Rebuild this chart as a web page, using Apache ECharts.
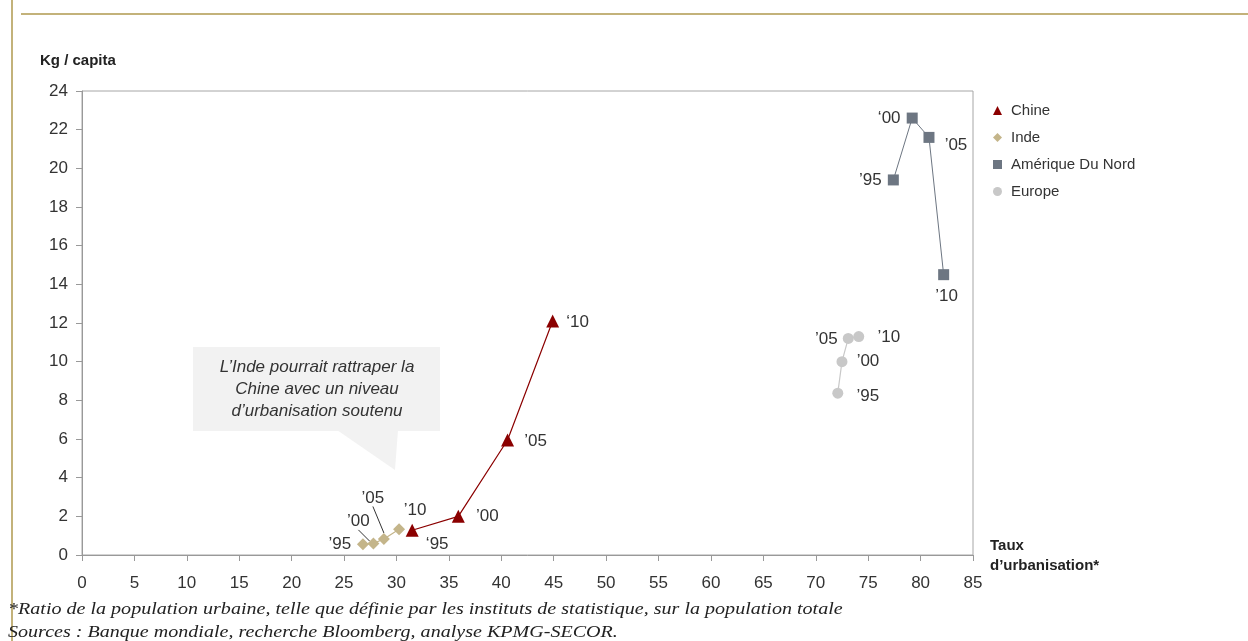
<!DOCTYPE html>
<html><head><meta charset="utf-8">
<script src="https://cdn.jsdelivr.net/npm/echarts@6/dist/echarts.min.js"></script>
<style>html,body{margin:0;padding:0;background:#fff;}#c{width:1248px;height:641px;}</style>
</head><body><div id="c"></div>
<script>
const seriesNames = ['Chine', 'Inde', 'Amérique Du Nord', 'Europe'];
const chineX = [31.5, 35.9, 40.6, 44.9];
const chineY = [1.28, 2.0, 5.95, 12.1];
const chineLabels = ['‘95', '’00', '’05', '‘10'];
const indeX = [26.8, 27.8, 28.8, 30.25];
const indeY = [0.55, 0.6, 0.83, 1.33];
const indeLabels = ['’95', '’00', '’05', '’10'];
const naX = [77.4, 79.2, 80.8, 82.2];
const naY = [19.4, 22.6, 21.6, 14.5];
const naLabels = ['’95', '‘00', '’05', '’10'];
const euX = [72.1, 72.5, 73.1, 74.1];
const euY = [8.37, 10.0, 11.2, 11.3];
const euLabels = ['’95', '’00', '’05', '’10'];
const xTicks = [0,5,10,15,20,25,30,35,40,45,50,55,60,65,70,75,80,85];
const yTicks = [0,2,4,6,8,10,12,14,16,18,20,22,24];
const yAxisTitle = 'Kg / capita';
const xAxisTitle = 'Taux\nd’urbanisation*';
const calloutText = 'L’Inde pourrait rattraper la\nChine avec un niveau\nd’urbanisation soutenu';
const footnote1 = '*Ratio de la population urbaine, telle que définie par les instituts de statistique, sur la population totale';
const footnote2 = 'Sources : Banque mondiale, recherche Bloomberg, analyse KPMG-SECOR.';

const FONT = '"Liberation Sans", Arial, sans-serif';
const lblBase = {show: true, position: 'inside', fontSize: 17, color: '#333', fontFamily: FONT};

function build(xs, ys, labels, offsets) {
  return xs.map((x, i) => ({value: [x, ys[i]], label: Object.assign({}, lblBase, {formatter: labels[i], offset: offsets[i]})}));
}

const chineOff = [[25, 14], [29, 0], [28, 1], [25, 1]];
const indeOff = [[0, 0], [0, 0], [0, 0], [0, 0]];
const indeMoves = [[-23, 0], [-15, -22], [-11, -41], [16, -19]];
const indeLeader = [false, true, true, false];
const naOff = [[-23, 0], [-23, 0], [27, 8], [3, 22]];
const euOff = [[30, 3], [26, 0], [-22, 1], [30, 1]];

const indeData = build(indeX, indeY, indeLabels, indeOff).map((d, i) => {
  d.labelLine = {show: indeLeader[i], lineStyle: {color: '#333', width: 1}};
  return d;
});

const chart = echarts.init(document.getElementById('c'), null, {renderer: 'canvas'});
chart.setOption({
  animation: false,
  backgroundColor: '#fff',
  textStyle: {fontFamily: FONT},
  grid: {left: 82, top: 91, right: 275, bottom: 86, show: true, borderColor: '#a6a6a6', borderWidth: 1, backgroundColor: 'transparent'},
  legend: {
    orient: 'vertical', left: 988, top: 98, itemWidth: 9, itemHeight: 9, itemGap: 12,
    textStyle: {fontSize: 15, color: '#333', fontFamily: FONT, padding: [0, 0, 0, 4]},
    data: [
      {name: 'Chine', icon: 'triangle', itemStyle: {color: '#8b0000'}},
      {name: 'Inde', icon: 'diamond', itemStyle: {color: '#c4b58a'}},
      {name: 'Amérique Du Nord', icon: 'rect', itemStyle: {color: '#6d7682'}},
      {name: 'Europe', icon: 'circle', itemStyle: {color: '#c8c8c8'}}
    ]
  },
  xAxis: {
    type: 'value', min: 0, max: 85, interval: 5,
    axisLine: {show: true, lineStyle: {color: '#999'}},
    axisTick: {show: true, inside: false, length: 6, lineStyle: {color: '#999'}},
    axisLabel: {fontSize: 17, color: '#333', margin: 20, fontFamily: FONT,
      formatter: v => xTicks.includes(v) ? String(v) : ''},
    splitLine: {show: false}
  },
  yAxis: {
    type: 'value', min: 0, max: 24, interval: 2,
    axisLine: {show: true, lineStyle: {color: '#999'}},
    axisTick: {show: true, length: 6, lineStyle: {color: '#999'}},
    axisLabel: {fontSize: 17, color: '#333', margin: 14, fontFamily: FONT,
      formatter: v => yTicks.includes(v) ? String(v) : ''},
    splitLine: {show: false}
  },
  series: [
    {name: 'Chine', type: 'line', symbol: 'triangle', symbolSize: 13,
      itemStyle: {color: '#8b0000'}, lineStyle: {color: '#8b0000', width: 1.2},
      data: build(chineX, chineY, chineLabels, chineOff), z: 4},
    {name: 'Inde', type: 'line', symbol: 'diamond', symbolSize: 12,
      itemStyle: {color: '#c4b58a'}, lineStyle: {color: '#c4b58a', width: 1.2},
      labelLayout: function (p) {
        const m = indeMoves[p.dataIndex];
        return {dx: m[0], dy: m[1]};
      },
      labelLine: {show: true, lineStyle: {color: '#333', width: 1}},
      data: indeData, z: 3},
    {name: 'Amérique Du Nord', type: 'line', symbol: 'rect', symbolSize: 11,
      itemStyle: {color: '#6d7682'}, lineStyle: {color: '#6d7682', width: 1},
      data: build(naX, naY, naLabels, naOff), z: 3},
    {name: 'Europe', type: 'line', symbol: 'circle', symbolSize: 11,
      itemStyle: {color: '#c8c8c8'}, lineStyle: {color: '#c8c8c8', width: 1.2},
      data: build(euX, euY, euLabels, euOff), z: 3}
  ],
  graphic: [
    {type: 'line', shape: {x1: 12, y1: 0, x2: 12, y2: 641}, style: {stroke: '#c3b27a', lineWidth: 2}},
    {type: 'line', shape: {x1: 21, y1: 14, x2: 1248, y2: 14}, style: {stroke: '#c3b27a', lineWidth: 2}},
    {type: 'text', left: 40, top: 53, style: {text: yAxisTitle, font: 'bold 15px ' + FONT, fill: '#222'}},
    {type: 'text', left: 990, top: 536, style: {text: xAxisTitle, font: 'bold 15px ' + FONT, fill: '#222', lineHeight: 20}},
    {type: 'rect', shape: {x: 193, y: 347, width: 247, height: 84}, style: {fill: '#f2f2f2'}, z: 1},
    {type: 'polygon', shape: {points: [[337, 430], [398, 430], [395, 470]]}, style: {fill: '#f2f2f2'}, z: 1},
    {type: 'text', x: 317, y: 389, z: 2, style: {text: calloutText, font: 'italic 17px ' + FONT, fill: '#333', align: 'center', verticalAlign: 'middle', lineHeight: 22}},
    {type: 'text', x: 8, y: 601, scaleX: 1.18, originX: 0, style: {text: footnote1, font: 'italic 17px "Liberation Serif", "Times New Roman", serif', fill: '#222'}},
    {type: 'text', x: 8, y: 624, scaleX: 1.18, originX: 0, style: {text: footnote2, font: 'italic 17px "Liberation Serif", "Times New Roman", serif', fill: '#222'}}
  ]
});
</script></body></html>
